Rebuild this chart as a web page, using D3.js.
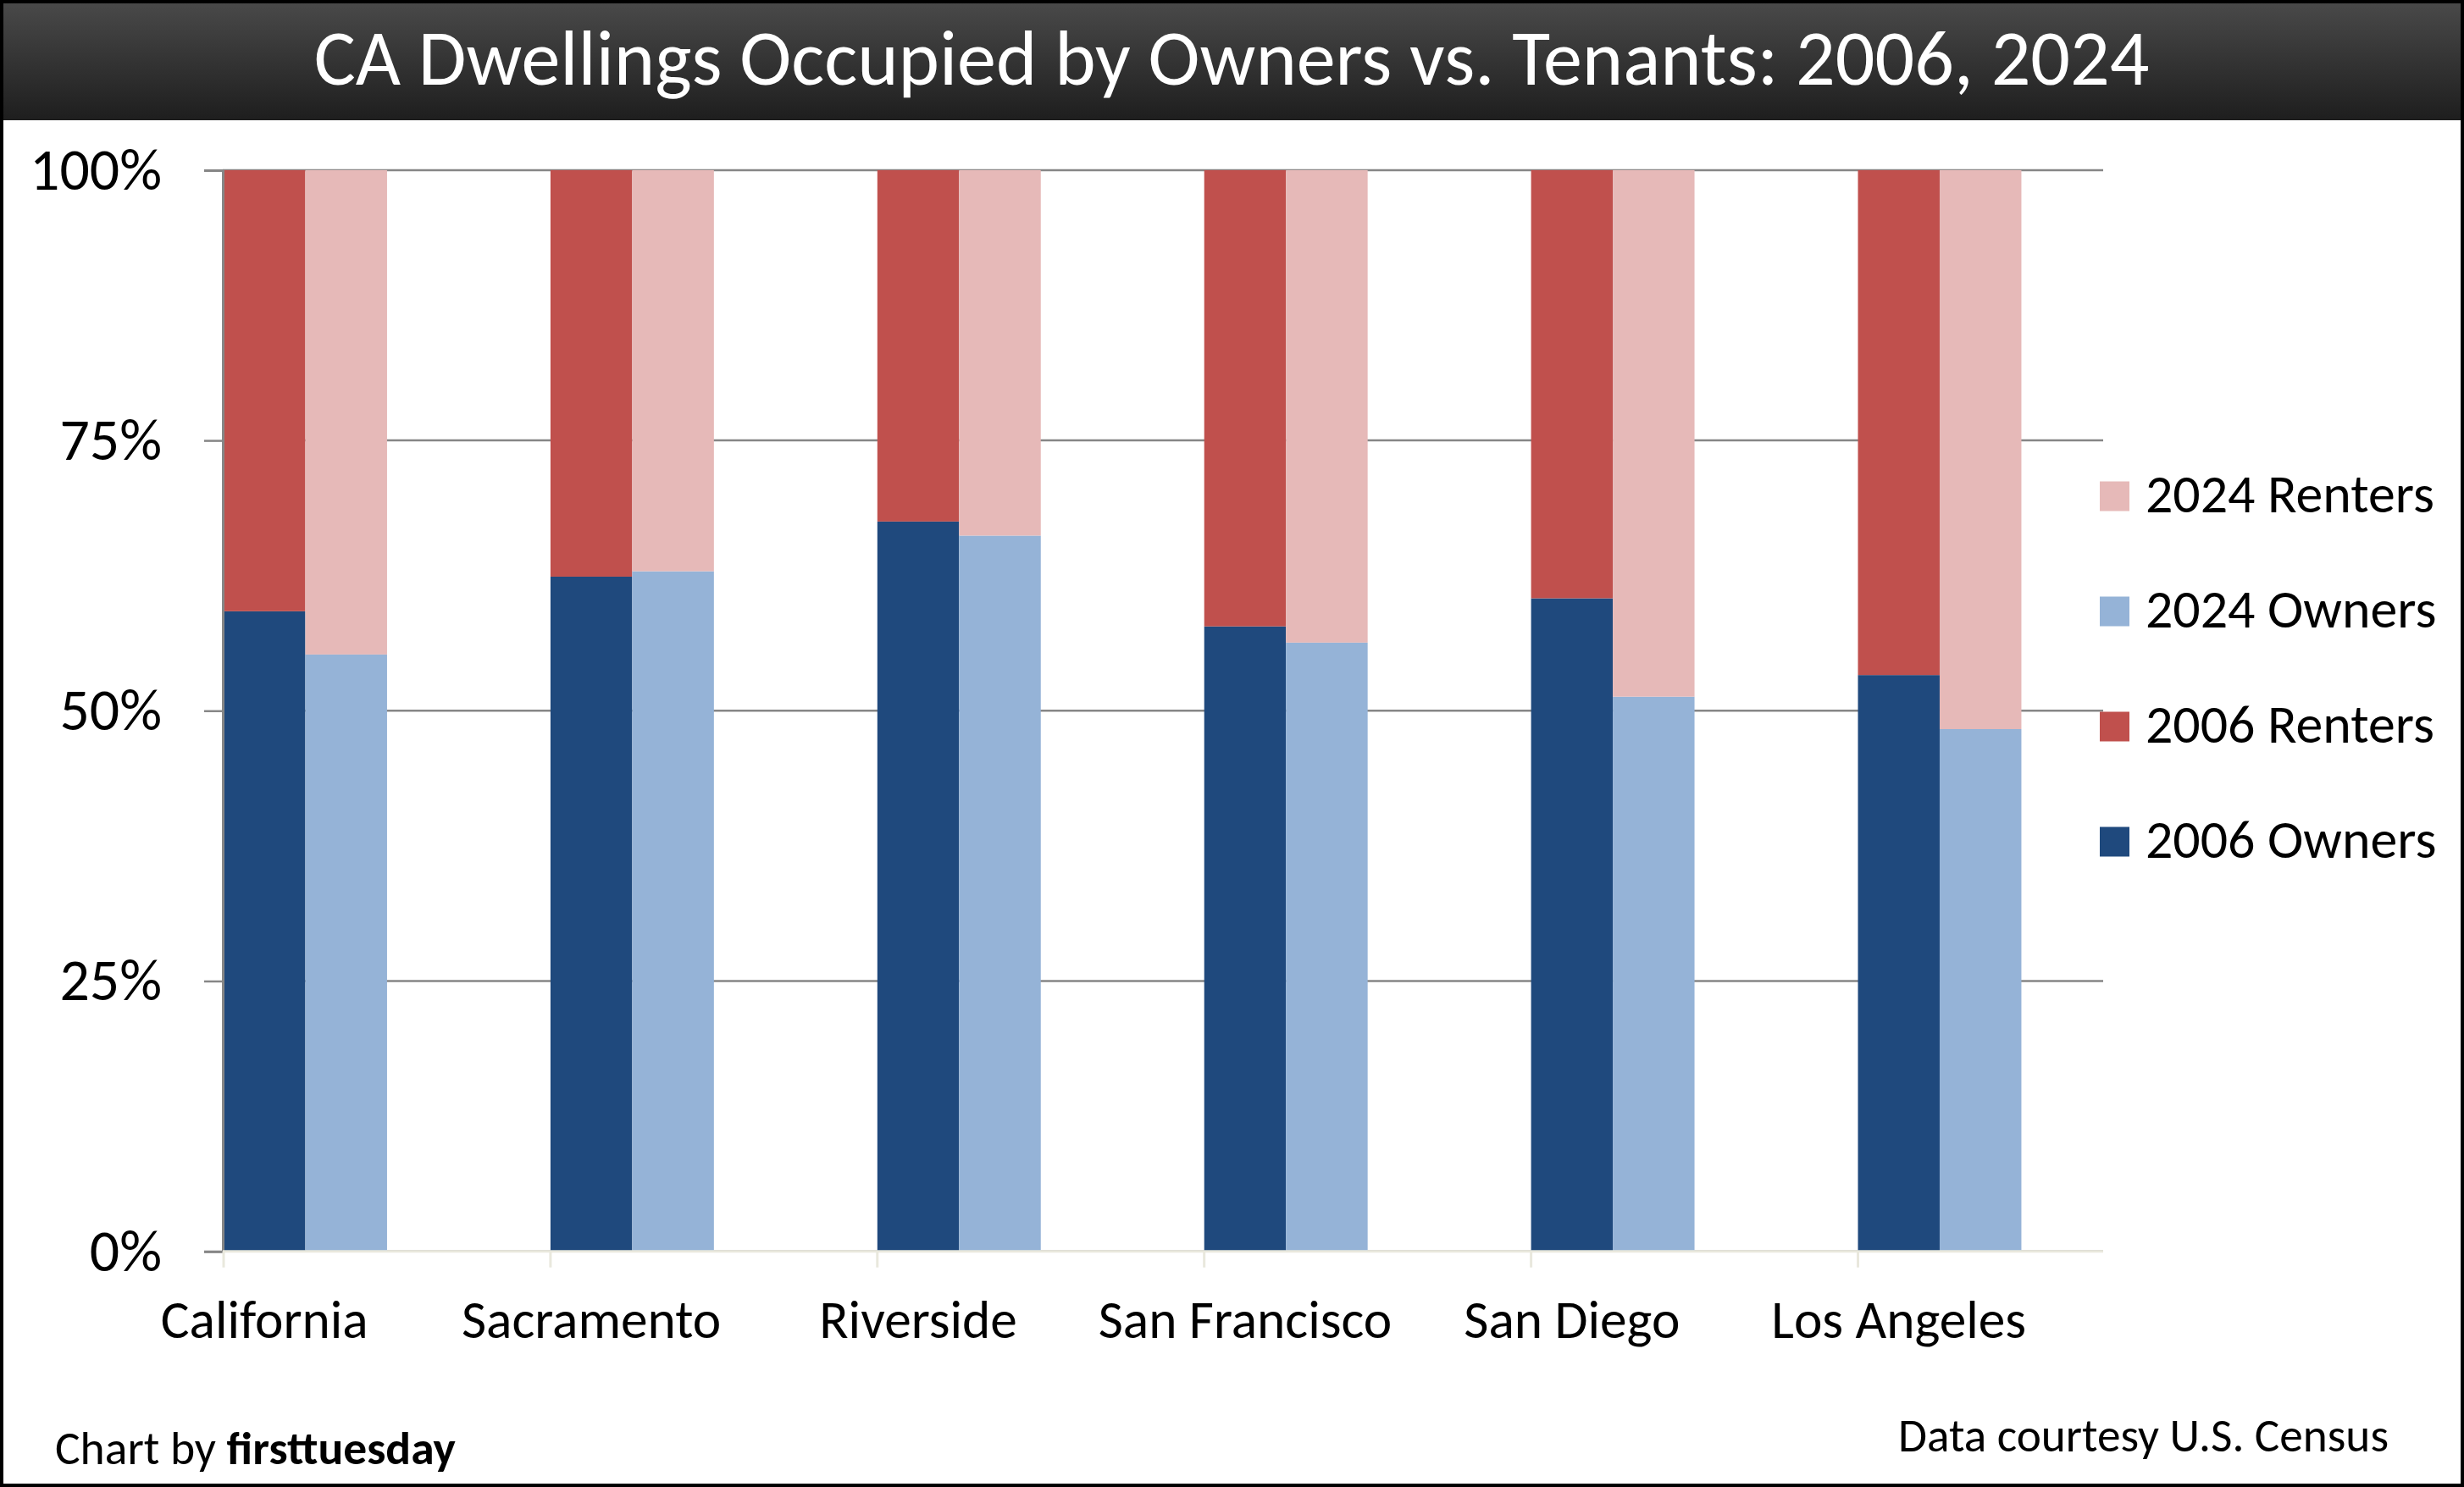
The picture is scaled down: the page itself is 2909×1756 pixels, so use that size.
<!DOCTYPE html>
<html>
<head>
<meta charset="utf-8">
<script src="https://cdn.jsdelivr.net/npm/d3@7"></script>
<style>
  body { margin: 0; background: #fff; }
  text { font-family: Carlito, Calibri, Lato, "Open Sans", sans-serif; }
</style>
</head>
<body>
<div id="chart"></div>
<script>
const categories = ["California", "Sacramento", "Riverside", "San Francisco", "San Diego", "Los Angeles"];
const owners2006 = [59.2, 62.4, 67.5, 57.8, 60.4, 53.3];
const owners2024 = [55.2, 62.9, 66.2, 56.3, 51.3, 48.3];
const renters2006 = owners2006.map((d) => +(100 - d).toFixed(1));
const renters2024 = owners2024.map((d) => +(100 - d).toFixed(1));
const yTicks = [0, 25, 50, 75, 100];
const legendItems = ["2024 Renters", "2024 Owners", "2006 Renters", "2006 Owners"];

const W = 2909, H = 1756;
const colors = {
  "2006 Owners": "#1F497D",
  "2006 Renters": "#C0504D",
  "2024 Owners": "#95B3D7",
  "2024 Renters": "#E6B9B8",
};

const svg = d3.select("#chart").append("svg").attr("width", W).attr("height", H);

// fit text width to the reference by tweaking font-size
function fit(sel, w) {
  const cur = sel.node().getComputedTextLength();
  const fs = parseFloat(sel.attr("font-size"));
  const nf = fs * w / cur;
  sel.attr("font-size", nf);
  return nf;
}

// title bar
const grad = svg.append("defs").append("linearGradient").attr("id", "tb").attr("x1", 0).attr("y1", 0).attr("x2", 0).attr("y2", 1);
grad.append("stop").attr("offset", "0%").attr("stop-color", "#4a4a4a");
grad.append("stop").attr("offset", "100%").attr("stop-color", "#1e1e1e");
svg.append("rect").attr("width", W).attr("height", 142).attr("fill", "url(#tb)");
const title = svg.append("text")
  .attr("x", 1454).attr("y", 100)
  .attr("text-anchor", "middle")
  .attr("fill", "#fff")
  .attr("font-size", 80)
  .text("CA Dwellings Occupied by Owners vs. Tenants: 2006, 2024");
fit(title, 2167);

// scales
const y = d3.scaleLinear().domain([0, 100]).range([1477.7, 200.9]);
const x = d3.scaleBand().domain(categories).range([264, 264 + 6 * 385.9]);
const sub = d3.scaleBand().domain(["2006", "2024"]).range([0, x.bandwidth() / 2]);
const gridRight = 2483;

// gridlines
svg.append("g").selectAll("line").data(yTicks).join("line")
  .attr("x1", 263).attr("x2", gridRight)
  .attr("y1", (d) => y(d)).attr("y2", (d) => y(d))
  .attr("stroke", "#868686").attr("stroke-width", 2.5);

// bars
const rows = categories.map((c, i) => ({ c, i }));
const series = [
  { key: "2006 Owners", yr: "2006", lo: (i) => 0, hi: (i) => owners2006[i] },
  { key: "2006 Renters", yr: "2006", lo: (i) => owners2006[i], hi: (i) => owners2006[i] + renters2006[i] },
  { key: "2024 Owners", yr: "2024", lo: (i) => 0, hi: (i) => owners2024[i] },
  { key: "2024 Renters", yr: "2024", lo: (i) => owners2024[i], hi: (i) => owners2024[i] + renters2024[i] },
];
series.forEach((s) => {
  svg.append("g").selectAll("rect").data(rows).join("rect")
    .attr("x", (d) => x(d.c) + sub(s.yr))
    .attr("width", sub.bandwidth())
    .attr("y", (d) => y(s.hi(d.i)))
    .attr("height", (d) => y(s.lo(d.i)) - y(s.hi(d.i)))
    .attr("fill", colors[s.key]);
});

// y axis
const yAxis = svg.append("g")
  .attr("transform", "translate(263,0)")
  .call(d3.axisLeft(y).tickValues(yTicks).tickSize(22).tickPadding(50).tickFormat((d) => d + "%"));
yAxis.select(".domain").attr("stroke", "#868686").attr("stroke-width", 3);
yAxis.selectAll(".tick line").attr("stroke", "#868686").attr("stroke-width", 2.5);
yAxis.selectAll(".tick text").attr("fill", "#000").attr("font-family", null).attr("font-size", 50);
const yfs = fit(yAxis.selectAll(".tick text").filter((d) => d === 100), 156);
yAxis.selectAll(".tick text").attr("font-size", yfs);

// x axis (light line + ticks at category starts)
svg.append("line")
  .attr("x1", 263).attr("x2", gridRight)
  .attr("y1", y(0)).attr("y2", y(0))
  .attr("stroke", "#E9E8DD").attr("stroke-width", 3);
svg.append("g").selectAll("line").data(categories).join("line")
  .attr("x1", (d) => x(d)).attr("x2", (d) => x(d))
  .attr("y1", y(0)).attr("y2", y(0) + 19)
  .attr("stroke", "#E9E8DD").attr("stroke-width", 3);

const xl = svg.append("g").selectAll("text").data(categories).join("text")
  .attr("x", (d) => x(d) + sub("2006") + sub.bandwidth() / 2)
  .attr("y", 1580)
  .attr("text-anchor", "middle")
  .attr("font-size", 56)
  .text((d) => d);
const xfs = fit(xl.filter((d) => d === "California"), 245);
xl.attr("font-size", xfs);

// legend
const leg = svg.append("g").selectAll("g").data(legendItems).join("g")
  .attr("transform", (d, i) => `translate(2479,${586 + i * 136})`);
leg.append("rect").attr("y", -17.5).attr("width", 35).attr("height", 35).attr("fill", (d) => colors[d]);
const lt = leg.append("text").attr("x", 54).attr("y", 19).attr("font-size", 52).text((d) => d);
const lfs = fit(lt.filter((d) => d === "2024 Renters"), 341);
lt.attr("font-size", lfs);

// footer
const left = svg.append("text").attr("x", 65).attr("y", 1729).attr("font-size", 48);
left.append("tspan").text("Chart by ");
left.append("tspan").attr("font-weight", "bold").text("firsttuesday");
fit(left, 473);
const right = svg.append("text").attr("x", 2820).attr("y", 1714).attr("text-anchor", "end").attr("font-size", 48)
  .text("Data courtesy U.S. Census");
fit(right, 579);

// frame
svg.append("rect").attr("x", 2).attr("y", 2).attr("width", W - 4).attr("height", H - 4)
  .attr("fill", "none").attr("stroke", "#000").attr("stroke-width", 4);
</script>
</body>
</html>
